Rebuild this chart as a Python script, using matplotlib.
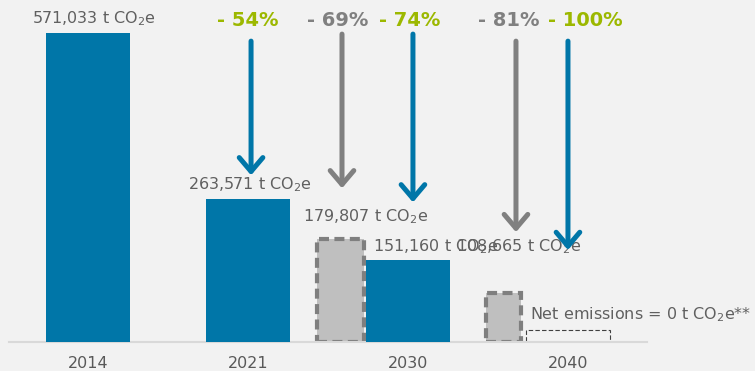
import matplotlib
matplotlib.use("Agg")
import matplotlib.pyplot as plt
import numpy as np

# data
years = ["2014", "2021", "2030", "2040"]
actual = [571033, 263571, 151160, None]          # blue bars (t CO2e)
actual_labels = ["571,033", "263,571", "151,160", None]
target_height = [190000, 90000]                  # grey dashed target bars (2030, 2040)
target_labels = ["179,807", "108,665"]
net_zero_box = 22000
reductions = ["- 54%", "- 69%", "- 74%", "- 81%", "- 100%"]

BLUE = "#0076a8"
GREY = "#808080"
GREEN = "#9cb800"
TXT = "#606060"
BG = "#f2f2f2"

fig = plt.figure(figsize=(7.55, 3.71), dpi=100, facecolor=BG)
ax = fig.add_axes([9 / 755, 29 / 371, 638 / 755, 342 / 371])
ax.set_facecolor(BG)
ax.set_xlim(-0.494, 3.494)
ax.set_ylim(0, 632000)

x = np.arange(len(years))
bw = 0.523

# blue bars
for i, v in enumerate(actual):
    if v is not None:
        ax.bar(x[i], v, bw, color=BLUE, zorder=3)

# grey dashed target bars
tx = [2 - 0.42, 3 - 0.403]
tw = [0.294, 0.22]
for xi, h, w in zip(tx, target_height, tw):
    ax.bar(xi, h, w, color="#bfbfbf", edgecolor="#7f7f7f", linewidth=3,
           linestyle=(0, (2.4, 1.3)), zorder=2)

# net zero dashed box
ax.bar(3, net_zero_box, 0.525, fill=False, edgecolor="#404040", linewidth=0.8,
       linestyle=(0, (4, 2)), zorder=2)

# value labels
fs = 11.5
ax.text(0.036, 598000, actual_labels[0] + " t CO$_2$e", ha="center", va="center", fontsize=fs, color=TXT)
ax.text(1.0125, 290000, actual_labels[1] + " t CO$_2$e", ha="center", va="center", fontsize=fs, color=TXT)
ax.text(1.7375, 231000, target_labels[0] + " t CO$_2$e", ha="center", va="center", fontsize=fs, color=TXT)
ax.text(1.78, 177000, actual_labels[2] + " t CO$_2$e", ha="left", va="center", fontsize=fs, color=TXT)
ax.text(2.3, 177000, target_labels[1] + " t CO$_2$e", ha="left", va="center", fontsize=fs, color=TXT)
ax.text(2.7625, 50000, "Net emissions = 0 t CO$_2$e**", ha="left", va="center", fontsize=fs, color=TXT)

# reduction arrows + percentages
arr_x = [1.019, 1.5875, 2.031, 2.675, 3.0]
arr_top = [556000, 569000, 569000, 556000, 556000]
arr_tip = [308000, 284000, 258000, 203000, 170000]
arr_col = [BLUE, GREY, BLUE, GREY, BLUE]
pct_x = [1.0, 1.5625, 2.01, 2.63, 3.11]
pct_col = [GREEN, GREY, GREEN, GREY, GREEN]
for i in range(5):
    ax.annotate("", xy=(arr_x[i], arr_tip[i]), xytext=(arr_x[i], arr_top[i]),
                arrowprops=dict(arrowstyle="->,head_length=1.0,head_width=0.85",
                                lw=3.6, color=arr_col[i], shrinkA=0, shrinkB=0,
                                mutation_scale=10, capstyle="round"), zorder=4)
    ax.text(pct_x[i], 595000, reductions[i], ha="center", va="center",
            fontsize=14, fontweight="bold", color=pct_col[i])

for s in ["top", "right", "left"]:
    ax.spines[s].set_visible(False)
ax.spines["bottom"].set_color("#d9d9d9")
ax.spines["bottom"].set_linewidth(1.5)
ax.set_yticks([])
ax.set_xticks(x, years)
ax.tick_params(axis="x", length=0, pad=10, labelsize=11.5, labelcolor="#595959")

fig.savefig("out.png", dpi=100, facecolor=BG)
